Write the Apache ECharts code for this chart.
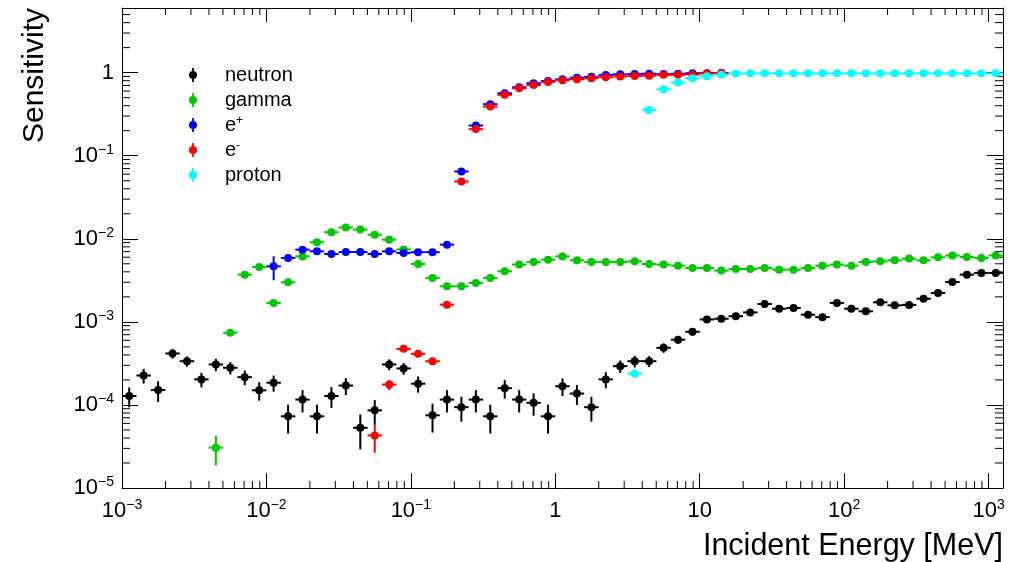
<!DOCTYPE html>
<html lang="en">
  <head>
    <meta charset="UTF-8" />
    <title>Sensitivity</title>
    <script src="https://cdn.jsdelivr.net/npm/echarts@6/dist/echarts.min.js"></script>
    <style>
      html, body { margin: 0; padding: 0; background: #fff; }
      #main { width: 1023px; height: 562px; }
    </style>
  </head>
  <body>
    <div id="main"></div>
    <script>
      // binning: 10 log bins per decade starting at 1e-3 MeV
      var X_MIN = 1e-3;
      var BIN_W = 0.1;
      var N_BINS = 61;
      var X_MAX = Math.pow(10, -3 + BIN_W * N_BINS);
      var Y_MIN = 1e-5;
      var Y_MAX = 6;

      var seriesNames = ["neutron", "gamma", "e+", "e-", "proton"];
      var seriesColors = ["#000000", "#00c800", "#0000ff", "#ff0000", "#00ffff"];
      // first bin index of each series
      var seriesStart = [0, 6, 10, 17, 35];

      var neutron = [
        1.28e-4, 2.26e-4, 1.51e-4, 4.16e-4, 3.36e-4, 2.03e-4, 3.07e-4, 2.8e-4, 2.16e-4, 1.5e-4,
        1.85e-4, 7.3e-5, 1.16e-4, 7.3e-5, 1.28e-4, 1.71e-4, 5.3e-5, 8.6e-5, 3.07e-4, 2.75e-4,
        1.8e-4, 7.5e-5, 1.16e-4, 9.4e-5, 1.16e-4, 7.3e-5, 1.59e-4, 1.16e-4, 1.06e-4, 7.3e-5,
        1.68e-4, 1.37e-4, 9.4e-5, 2.03e-4, 2.93e-4, 3.36e-4, 3.36e-4, 4.87e-4, 6.1e-4, 7.6e-4,
        1.07e-3, 1.09e-3, 1.17e-3, 1.3e-3, 1.64e-3, 1.44e-3, 1.47e-3, 1.22e-3, 1.14e-3, 1.69e-3,
        1.44e-3, 1.34e-3, 1.72e-3, 1.58e-3, 1.6e-3, 1.9e-3, 2.23e-3, 3.02e-3, 3.7e-3, 3.88e-3,
        3.88e-3
      ];
      var neutronErr = [
        0.27, 0.2, 0.28, 0.13, 0.14, 0.2, 0.17, 0.17, 0.2, 0.25,
        0.22, 0.38, 0.3, 0.38, 0.28, 0.23, 0.45, 0.33, 0.15, 0.16,
        0.22, 0.38, 0.3, 0.33, 0.3, 0.38, 0.25, 0.3, 0.3, 0.38,
        0.24, 0.27, 0.33, 0.22, 0.17, 0.16, 0.15, 0.13, 0.11, 0.1,
        0.06, 0.06, 0.05, 0.05, 0.05, 0.05, 0.05, 0.05, 0.05, 0.04,
        0.04, 0.04, 0.04, 0.04, 0.04, 0.04, 0.03, 0.03, 0.03, 0.03,
        0.03
      ];

      var gamma = [
        3.06e-5, 7.4e-4, 3.7e-3, 4.58e-3, 1.69e-3, 2.99e-3, 6.14e-3, 9.1e-3, 1.2e-2, 1.37e-2,
        1.29e-2, 1.12e-2, 9.75e-3, 7.45e-3, 4.98e-3, 3.38e-3, 2.68e-3, 2.68e-3, 2.94e-3, 3.38e-3,
        4.06e-3, 4.89e-3, 5.26e-3, 5.61e-3, 6.14e-3, 5.5e-3, 5.26e-3, 5.26e-3, 5.26e-3, 5.35e-3,
        4.98e-3, 4.89e-3, 4.75e-3, 4.45e-3, 4.45e-3, 4.14e-3, 4.33e-3, 4.33e-3, 4.45e-3, 4.25e-3,
        4.25e-3, 4.45e-3, 4.75e-3, 4.89e-3, 4.75e-3, 5.26e-3, 5.35e-3, 5.5e-3, 5.77e-3, 5.5e-3,
        5.98e-3, 6.3e-3, 6.04e-3, 5.88e-3, 6.3e-3
      ];
      var gammaErr = [
        0.39, 0.05, 0.03, 0.03, 0.04, 0.03, 0.02, 0.02, 0.02, 0.02,
        0.02, 0.02, 0.02, 0.02, 0.02, 0.03, 0.03, 0.03, 0.03, 0.03,
        0.02, 0.02, 0.02, 0.02, 0.02, 0.02, 0.02, 0.02, 0.02, 0.02,
        0.02, 0.02, 0.02, 0.02, 0.02, 0.02, 0.02, 0.02, 0.02, 0.02,
        0.02, 0.02, 0.02, 0.02, 0.02, 0.02, 0.02, 0.02, 0.02, 0.02,
        0.02, 0.02, 0.02, 0.02, 0.02
      ];

      var ePos = [
        4.66e-3, 5.88e-3, 7.4e-3, 7.06e-3, 6.56e-3, 6.93e-3, 6.93e-3, 6.56e-3, 7.06e-3, 6.75e-3,
        6.9e-3, 6.9e-3, 8.5e-3, 0.0646, 0.231, 0.417, 0.565, 0.667, 0.745, 0.794,
        0.832, 0.871, 0.89, 0.938, 0.955, 0.96, 0.97, 0.96, 0.97, 0.985,
        0.985, 0.99
      ];
      var ePosErr = [
        0.32, 0.06, 0.04, 0.04, 0.04, 0.04, 0.04, 0.04, 0.04, 0.04,
        0.04, 0.04, 0.03, 0.02, 0.01, 0.01, 0.01, 0.01, 0.01, 0.01,
        0.01, 0.01, 0.01, 0.01, 0.01, 0.01, 0.01, 0.01, 0.01, 0.01,
        0.01, 0.01
      ];

      var eNeg = [
        4.3e-5, 1.76e-4, 4.73e-4, 4.12e-4, 3.36e-4, 1.61e-3, 0.049, 0.209, 0.39, 0.54,
        0.649, 0.711, 0.773, 0.81, 0.832, 0.855, 0.88, 0.9, 0.91, 0.92,
        0.94, 0.94, 0.95, 0.98, 0.99
      ];
      var eNegErr = [
        0.38, 0.14, 0.07, 0.07, 0.07, 0.04, 0.02, 0.01, 0.01, 0.01,
        0.01, 0.01, 0.01, 0.01, 0.01, 0.01, 0.01, 0.01, 0.01, 0.01,
        0.01, 0.01, 0.01, 0.01, 0.01
      ];

      var proton = [
        2.39e-4, 0.356, 0.631, 0.759, 0.857, 0.905, 0.945, 0.975, 0.98, 0.98,
        0.98, 0.98, 0.98, 0.98, 0.98, 0.98, 0.98, 0.98, 0.98, 0.98,
        0.98, 0.98, 0.98, 0.98, 0.98, 0.98
      ];
      var protonErr = [
        0.11, 0.02, 0.01, 0.01, 0.01, 0.01, 0.01, 0.01, 0.01, 0.01,
        0.01, 0.01, 0.01, 0.01, 0.01, 0.01, 0.01, 0.01, 0.01, 0.01,
        0.01, 0.01, 0.01, 0.01, 0.01, 0.01
      ];

      var seriesValues = [neutron, gamma, ePos, eNeg, proton];
      var seriesErrors = [neutronErr, gammaErr, ePosErr, eNegErr, protonErr];

      var FONT = "'Liberation Sans', Arial, Helvetica, sans-serif";

      function buildPoints(start, vals, errs) {
        return vals.map(function (v, i) {
          var c = -3 + BIN_W * (start + i + 0.5);
          return [
            Math.pow(10, c),
            v,
            Math.pow(10, c - BIN_W / 2),
            Math.pow(10, c + BIN_W / 2),
            v * (1 - errs[i]),
            v * (1 + errs[i]),
          ];
        });
      }

      function errorBarItem(params, api) {
        var c = api.coord([api.value(0), api.value(1)]);
        var l = api.coord([api.value(2), api.value(1)]);
        var h = api.coord([api.value(3), api.value(1)]);
        var lo = api.coord([api.value(0), api.value(4)]);
        var hi = api.coord([api.value(0), api.value(5)]);
        var color = api.visual("color");
        return {
          type: "group",
          children: [
            { type: "line", shape: { x1: l[0], y1: c[1], x2: h[0], y2: c[1] }, style: { stroke: color, lineWidth: 2 } },
            { type: "line", shape: { x1: c[0], y1: hi[1], x2: c[0], y2: lo[1] }, style: { stroke: color, lineWidth: 2 } },
            { type: "circle", shape: { cx: c[0], cy: c[1], r: 4 }, style: { fill: color } },
          ],
        };
      }

      // minor tick positions (2..9 of each decade)
      var xMinor = [];
      for (var d = -3; d <= 3; d++) {
        for (var m = 2; m <= 9; m++) {
          var v = m * Math.pow(10, d);
          if (v < X_MAX) xMinor.push([v, Y_MIN]);
        }
      }
      var yMinor = [];
      for (var d2 = -5; d2 <= 0; d2++) {
        for (var m2 = 2; m2 <= 9; m2++) {
          var v2 = m2 * Math.pow(10, d2);
          if (v2 < Y_MAX) yMinor.push([X_MIN, v2]);
        }
      }

      function xMinorItem(params, api) {
        var b = api.coord([api.value(0), Y_MIN]);
        var t = api.coord([api.value(0), Y_MAX]);
        var st = { stroke: "#000", lineWidth: 1 };
        return {
          type: "group",
          children: [
            { type: "line", shape: { x1: b[0], y1: b[1], x2: b[0], y2: b[1] - 7 }, style: st },
            { type: "line", shape: { x1: t[0], y1: t[1], x2: t[0], y2: t[1] + 7 }, style: st },
          ],
        };
      }
      function yMinorItem(params, api) {
        var a = api.coord([X_MIN, api.value(1)]);
        var b = api.coord([X_MAX, api.value(1)]);
        var st = { stroke: "#000", lineWidth: 1 };
        return {
          type: "group",
          children: [
            { type: "line", shape: { x1: a[0], y1: a[1], x2: a[0] + 8, y2: a[1] }, style: st },
            { type: "line", shape: { x1: b[0], y1: b[1], x2: b[0] - 8, y2: b[1] }, style: st },
          ],
        };
      }

      function powLabel(value) {
        var e = Math.round(Math.log10(value));
        if (Math.abs(Math.log10(value) - e) > 1e-6) return "";
        if (e === 0) return "{b|1}";
        if (e === 1) return "{b|10}";
        return "{b|10}{s|" + String(e).replace("-", "\u2212") + "}";
      }

      var labelRich = {
        b: { fontSize: 22, lineHeight: 26, fontFamily: FONT, color: "#000" },
        s: { fontSize: 14, lineHeight: 14, verticalAlign: "top", fontFamily: FONT, color: "#000" },
      };

      var frameLine = { lineStyle: { color: "#000", width: 1 } };

      var series = seriesNames.map(function (name, i) {
        return {
          type: "custom",
          name: name,
          renderItem: errorBarItem,
          itemStyle: { color: seriesColors[i] },
          encode: { x: [0, 2, 3], y: [1, 4, 5] },
          data: buildPoints(seriesStart[i], seriesValues[i], seriesErrors[i]),
        };
      });
      series.unshift(
        { type: "custom", name: "xMinor", silent: true, renderItem: xMinorItem, data: xMinor },
        { type: "custom", name: "yMinor", silent: true, renderItem: yMinorItem, data: yMinor }
      );

      // marker with vertical error bar, same winding for both parts
      var ICON = "path://M3.1,0H4.9V14H3.1Z M0,7A4,4 0 1 1 8,7A4,4 0 1 1 0,7Z";

      var chartDom = document.getElementById("main");
      var myChart = echarts.init(chartDom);
      var option = {
        animation: false,
        backgroundColor: "#fff",
        grid: { left: 122, right: 20, top: 8, bottom: 74 },
        legend: {
          orient: "vertical",
          left: 184,
          top: 60,
          itemWidth: 8,
          itemHeight: 14,
          itemGap: 5,
          data: seriesNames.map(function (n) {
            return { name: n, icon: ICON, itemStyle: { borderWidth: 0 } };
          }),
          formatter: function (name) {
            if (name === "e+") return "e{s|+}";
            if (name === "e-") return "e{s|-}";
            return name;
          },
          textStyle: {
            fontSize: 20,
            lineHeight: 20,
            color: "#000",
            fontFamily: FONT,
            padding: [0, 0, 0, 23],
            rich: { s: { fontSize: 12, lineHeight: 12, verticalAlign: "top", color: "#000", fontFamily: FONT } },
          },
        },
        xAxis: [
          {
            type: "log",
            logBase: 10,
            min: X_MIN,
            max: X_MAX,
            position: "bottom",
            axisLine: frameLine,
            axisTick: { inside: true, length: 15, lineStyle: { color: "#000" } },
            splitLine: { show: false },
            axisLabel: { margin: 10, formatter: powLabel, rich: labelRich },
            name: "Incident Energy [MeV]",
            nameLocation: "end",
            nameGap: 0,
            nameTextStyle: {
              fontSize: 30.5,
              fontFamily: FONT,
              color: "#000",
              align: "right",
              verticalAlign: "top",
              padding: [43, 0, 0, 0],
            },
          },
          {
            type: "log",
            logBase: 10,
            min: X_MIN,
            max: X_MAX,
            position: "top",
            axisLine: frameLine,
            axisTick: { inside: true, length: 14, lineStyle: { color: "#000" } },
            splitLine: { show: false },
            axisLabel: { show: false },
          },
        ],
        yAxis: [
          {
            type: "log",
            logBase: 10,
            min: Y_MIN,
            max: Y_MAX,
            position: "left",
            axisLine: frameLine,
            axisTick: { inside: true, length: 16, lineStyle: { color: "#000" } },
            splitLine: { show: false },
            axisLabel: { margin: 8, formatter: powLabel, rich: labelRich },
            name: "Sensitivity",
            nameLocation: "end",
            nameGap: 0,
            nameRotate: 90,
            nameTextStyle: {
              fontSize: 30,
              fontFamily: FONT,
              color: "#000",
              align: "right",
              verticalAlign: "bottom",
              padding: [0, 0, 72, 0],
            },
          },
          {
            type: "log",
            logBase: 10,
            min: Y_MIN,
            max: Y_MAX,
            position: "right",
            axisLine: frameLine,
            axisTick: { inside: true, length: 16, lineStyle: { color: "#000" } },
            splitLine: { show: false },
            axisLabel: { show: false },
          },
        ],
        series: series,
      };
      option && myChart.setOption(option);
    </script>
  </body>
</html>
